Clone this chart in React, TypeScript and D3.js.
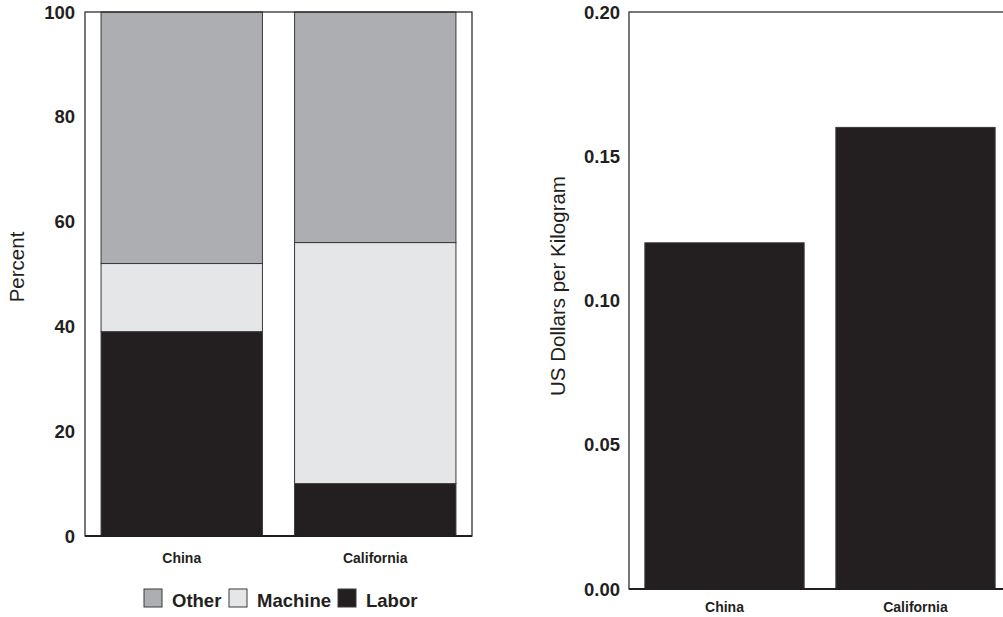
import * as d3 from 'd3';

const regions = ['China', 'California'];
const seriesNames = ['Labor', 'Machine', 'Other'];
const laborShare = [39, 10];
const machineShare = [13, 46];
const otherShare = [48, 44];
const percentTicks = [0, 20, 40, 60, 80, 100];
const costPerKg = [0.12, 0.16];
const costTicks = [0, 0.05, 0.1, 0.15, 0.2];

const COLORS: Record<string, string> = {
    Other: '#adaeb2',
    Machine: '#e5e6e8',
    Labor: '#231f20',
};

const FONT = '"Liberation Sans", Arial, Helvetica, sans-serif';
const WIDTH = 1003;
const HEIGHT = 617;

export default function App() {
    // left panel: stacked percent
    const left = { x0: 85, x1: 472, y0: 12, y1: 536 };
    const xLeft = d3.scaleBand<string>().domain(regions).range([left.x0, left.x1]).paddingInner(0.166).paddingOuter(0.083);
    const yLeft = d3.scaleLinear().domain([0, 100]).range([left.y1, left.y0]);

    const rows = regions.map((region, i) => ({
        region,
        Labor: laborShare[i],
        Machine: machineShare[i],
        Other: otherShare[i],
    }));
    const stacked = d3.stack<(typeof rows)[number]>().keys(seriesNames)(rows);

    // right panel: cost per kg
    const right = { x0: 629, x1: 1011, y0: 12, y1: 589 };
    const xRight = d3.scaleBand<string>().domain(regions).range([right.x0, right.x1]).paddingInner(0.166).paddingOuter(0.083);
    const yRight = d3.scaleLinear().domain([0, 0.2]).range([right.y1, right.y0]);

    const legendItems = ['Other', 'Machine', 'Labor'];
    const legendX = [144, 229, 338];

    return (
        <svg
            width={WIDTH}
            height={HEIGHT}
            style={{ position: 'fixed', left: 0, top: 0, background: '#fff' }}
            fontFamily={FONT}
        >
            <rect width={WIDTH} height={HEIGHT} fill="#fff" />

            {/* left panel */}
            {stacked.map((layer) => (
                <g key={layer.key}>
                    {layer.map((d, i) => (
                        <rect
                            key={regions[i]}
                            x={xLeft(regions[i])}
                            y={yLeft(d[1])}
                            width={xLeft.bandwidth()}
                            height={yLeft(d[0]) - yLeft(d[1])}
                            fill={COLORS[layer.key]}
                            stroke="#3a3a3a"
                            strokeWidth={1}
                        />
                    ))}
                </g>
            ))}
            <rect
                x={left.x0}
                y={left.y0}
                width={left.x1 - left.x0}
                height={left.y1 - left.y0}
                fill="none"
                stroke="#231f20"
                strokeWidth={1.2}
            />
            <line x1={left.x0} x2={left.x1} y1={left.y1} y2={left.y1} stroke="#231f20" strokeWidth={2} />
            {percentTicks.map((t) => (
                <text
                    key={t}
                    x={75}
                    y={yLeft(t)}
                    dy="0.36em"
                    textAnchor="end"
                    fontSize={18.5}
                    fontWeight="bold"
                    fill="#231f20"
                >
                    {t}
                </text>
            ))}
            {regions.map((r) => (
                <text
                    key={r}
                    x={(xLeft(r) ?? 0) + xLeft.bandwidth() / 2}
                    y={558}
                    dy="0.36em"
                    textAnchor="middle"
                    fontSize={14}
                    fontWeight="bold"
                    fill="#231f20"
                >
                    {r}
                </text>
            ))}
            <text
                transform={`translate(17, 267) rotate(-90)`}
                textAnchor="middle"
                dy="0.36em"
                fontSize={20.5}
                fill="#231f20"
            >
                Percent
            </text>

            {/* legend */}
            {legendItems.map((name, i) => (
                <g key={name} transform={`translate(${legendX[i]}, 589)`}>
                    <rect width={18} height={18} fill={COLORS[name]} stroke="#3a3a3a" strokeWidth={1} />
                    <text x={28} y={11} dy="0.36em" fontSize={18.5} fontWeight="bold" fill="#231f20">
                        {name}
                    </text>
                </g>
            ))}

            {/* right panel */}
            {regions.map((r, i) => (
                <rect
                    key={r}
                    x={xRight(r)}
                    y={yRight(costPerKg[i])}
                    width={xRight.bandwidth()}
                    height={yRight(0) - yRight(costPerKg[i])}
                    fill={COLORS.Labor}
                    stroke="#3a3a3a"
                    strokeWidth={1}
                />
            ))}
            <rect
                x={right.x0}
                y={right.y0}
                width={right.x1 - right.x0}
                height={right.y1 - right.y0}
                fill="none"
                stroke="#231f20"
                strokeWidth={1.2}
            />
            <line x1={right.x0} x2={right.x1} y1={right.y1} y2={right.y1} stroke="#231f20" strokeWidth={2} />
            {costTicks.map((t) => (
                <text
                    key={t}
                    x={620}
                    y={yRight(t)}
                    dy="0.36em"
                    textAnchor="end"
                    fontSize={18.5}
                    fontWeight="bold"
                    fill="#231f20"
                >
                    {t.toFixed(2)}
                </text>
            ))}
            {regions.map((r) => (
                <text
                    key={r}
                    x={(xRight(r) ?? 0) + xRight.bandwidth() / 2}
                    y={607}
                    dy="0.36em"
                    textAnchor="middle"
                    fontSize={14}
                    fontWeight="bold"
                    fill="#231f20"
                >
                    {r}
                </text>
            ))}
            <text
                transform={`translate(558, 286) rotate(-90)`}
                textAnchor="middle"
                dy="0.36em"
                fontSize={20.5}
                fill="#231f20"
            >
                US Dollars per Kilogram
            </text>
        </svg>
    );
}
